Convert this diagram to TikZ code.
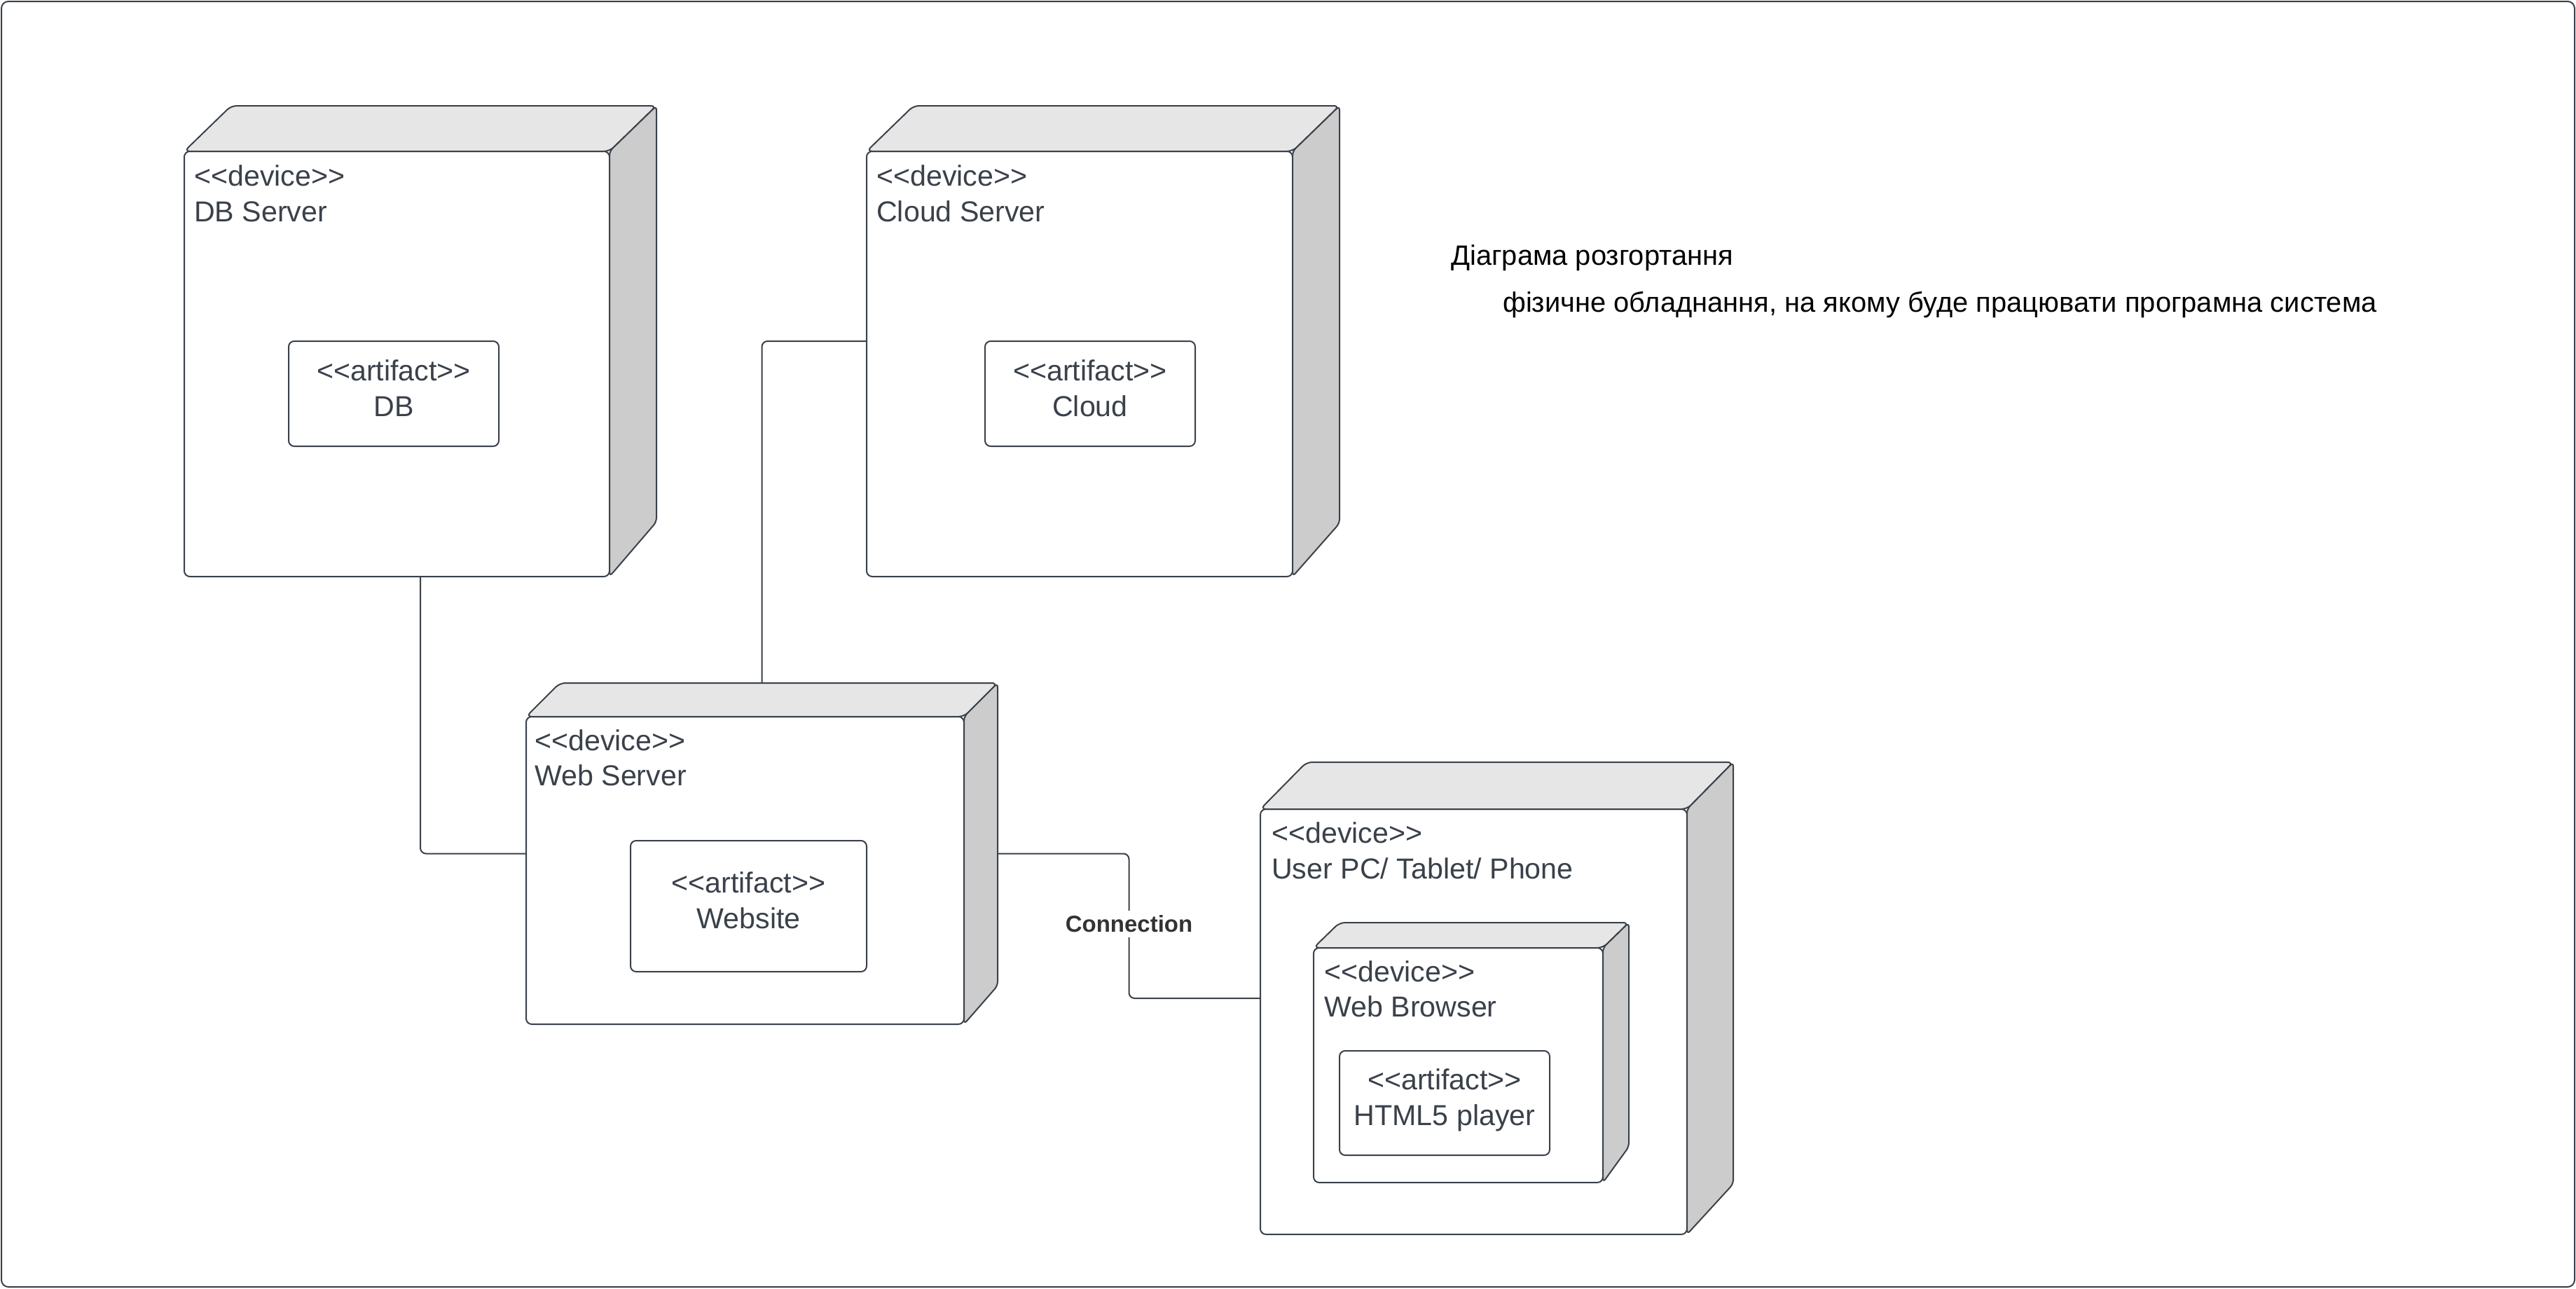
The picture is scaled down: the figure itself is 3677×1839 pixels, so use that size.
\documentclass[tikz,border=0pt]{standalone}
\usepackage{fontspec}
\newfontfamily\lfont{Liberation Sans}
\usetikzlibrary{calc}
\definecolor{linec}{HTML}{3A414A}
\definecolor{textc}{HTML}{3A414A}
\definecolor{topc}{HTML}{E6E6E6}
\definecolor{sidec}{HTML}{CCCCCC}
\definecolor{labc}{HTML}{333333}
\newcommand\devshape[8]{% name x1 y1 x2 y2 dx dy sb
  \node[inner sep=0pt, outer sep=0pt, minimum width={(#4-#2)*1pt}, minimum height={(#5-#3)*1pt}, anchor=north west] (#1) at (#2,#3) {};
  \path[frontface] (#2,#3+#7) rectangle (#4-#6,#5);
  \path[topface] (#2,#3+#7) -- (#2+#6,#3) -- (#4,#3) -- (#4-#6,#3+#7) -- cycle;
  \path[sideface] (#4-#6,#3+#7) -- (#4,#3) -- (#4,#5-#8) -- (#4-#6,#5) -- cycle;
}
\begin{document}
\begin{tikzpicture}[x=1pt, y=-1pt, line join=round,
  shapeline/.style={draw=linec, line width=2pt},
  frontface/.style={shapeline, fill=white, rounded corners=8pt},
  topface/.style={shapeline, fill=topc, rounded corners=8pt},
  sideface/.style={shapeline, fill=sidec, rounded corners=6pt},
  artbox/.style={shapeline, fill=white, rounded corners=8pt, inner sep=0pt, outer sep=0pt, anchor=north west},
  devtext/.style={anchor=base west, inner sep=0pt, text=textc, font=\lfont\fontsize{41.2}{49}\selectfont},
  arttext/.style={anchor=base, inner sep=0pt, text=textc, font=\lfont\fontsize{41.2}{49}\selectfont},
  titletext/.style={anchor=base west, inner sep=0pt, text=black, font=\lfont\fontsize{39.9}{48}\selectfont},
  wire/.style={draw=linec, line width=2pt, rounded corners=8pt},
  wirelabel/.style={fill=white, inner xsep=4pt, inner ysep=7pt, text=labc, font=\lfont\bfseries\fontsize{33}{40}\selectfont}]
\useasboundingbox (0,0) rectangle (3677,1839);
\draw[draw=linec, line width=2pt, rounded corners=10pt] (2,2) rectangle (3675,1837);

% DB Server
\devshape{db}{263}{151}{937}{823}{67}{65}{78}
\node[devtext] (dbt1) at (277,265) {<<device>>};
\node[devtext] (dbt2) at (277,316) {DB Server};
\node[artbox, minimum width=300pt, minimum height=150pt] (dba) at (412,487) {};
\node[arttext] (dba1) at ($(dba.center)+(0,-19)$) {<<artifact>>};
\node[arttext] (dba2) at ($(dba.center)+(0,32)$) {DB};

% Cloud Server
\devshape{cloud}{1237}{151}{1912}{823}{67}{65}{76}
\node[devtext] (clt1) at (1251,265) {<<device>>};
\node[devtext] (clt2) at (1251,316) {Cloud Server};
\node[artbox, minimum width=300pt, minimum height=150pt] (cla) at (1406,487) {};
\node[arttext] (cla1) at ($(cla.center)+(0,-19)$) {<<artifact>>};
\node[arttext] (cla2) at ($(cla.center)+(0,32)$) {Cloud};

% Web Server
\devshape{web}{751}{975}{1424}{1462}{48}{48}{55}
\node[devtext] (wst1) at (763,1071) {<<device>>};
\node[devtext] (wst2) at (763,1121) {Web Server};
\node[artbox, minimum width=337pt, minimum height=187pt] (wsa) at (900,1200) {};
\node[arttext] (wsa1) at ($(wsa.center)+(0,-19)$) {<<artifact>>};
\node[arttext] (wsa2) at ($(wsa.center)+(0,32)$) {Website};

% User PC
\devshape{pc}{1799}{1088}{2474}{1762}{66}{67}{72}
\node[devtext] (pct1) at (1815,1203) {<<device>>};
\node[devtext] (pct2) at (1815,1254) {User PC/ Tablet/ Phone};

% Web Browser
\devshape{br}{1875}{1317}{2325}{1688}{37}{36}{51}
\node[devtext] (brt1) at (1890,1401) {<<device>>};
\node[devtext] (brt2) at (1890,1451) {Web Browser};
\node[artbox, minimum width=300pt, minimum height=149pt] (bra) at (1912,1500) {};
\node[arttext] (bra1) at ($(bra.center)+(0,-19)$) {<<artifact>>};
\node[arttext] (bra2) at ($(bra.center)+(0,32)$) {HTML5 player};

% connectors
\draw[wire] (db.south) |- (web.west);
\draw[wire] (cloud.west) -| (web.north);
\coordinate (mid) at ($(web.east)!0.5!(pc.west)$);
\draw[wire] (web.east) -| (mid) |- (pc.west);
\node[wirelabel] (conn) at ($(mid)+(0,-3)$) {Connection};

% title
\node[titletext] (title) at (2071,378) {Діаграма розгортання};
\node[titletext] (subtitle) at (2145,445) {фізичне обладнання, на якому буде працювати програмна система};
\end{tikzpicture}
\end{document}
